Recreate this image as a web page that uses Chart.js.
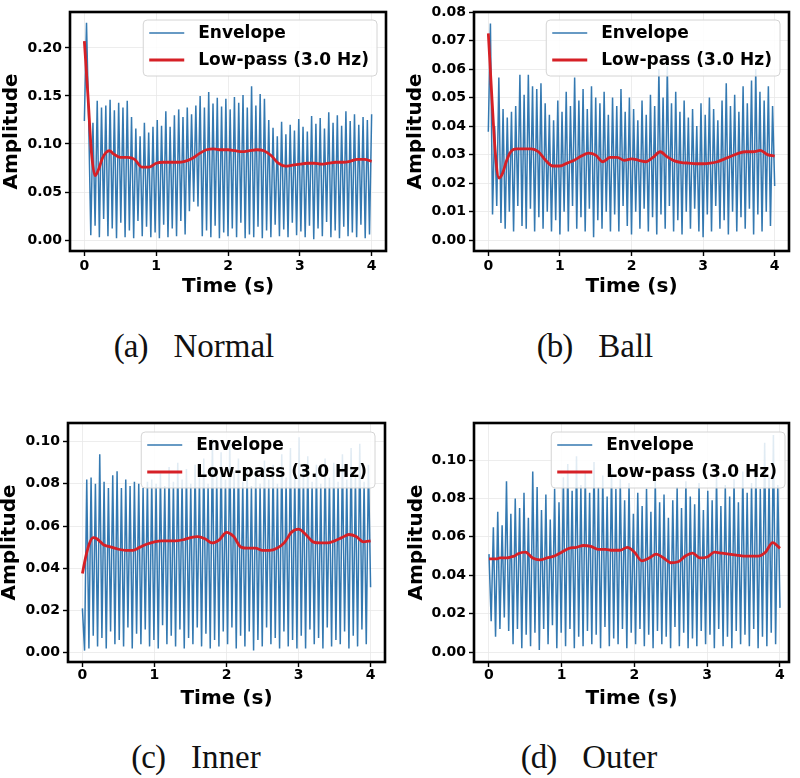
<!DOCTYPE html>
<html>
<head>
<meta charset="utf-8">
<title>Envelope and low-pass amplitude</title>
<script src="https://cdn.jsdelivr.net/npm/chart.js@4.4.1/dist/chart.umd.min.js"></script>
<style>
  html, body { margin: 0; padding: 0; background: #fff; }
  #page { position: relative; width: 800px; height: 778px; overflow: hidden; background: #fff; }
  #page canvas { position: absolute; }
  .cap {
    position: absolute; width: 300px; text-align: center;
    font-family: "Liberation Serif", "Times New Roman", serif;
    font-size: 33px; line-height: 33px; color: #111; white-space: nowrap;
  }
  .cap .tag { letter-spacing: -1px; }
  .cap .gap { display: inline-block; width: 26px; }
</style>
</head>
<body>
<div id="page">
  <canvas id="chartA" width="400" height="300" style="left:0px;top:0px"></canvas>
  <canvas id="chartB" width="400" height="300" style="left:400px;top:0px"></canvas>
  <canvas id="chartC" width="400" height="300" style="left:0px;top:411px"></canvas>
  <canvas id="chartD" width="400" height="300" style="left:400px;top:411px"></canvas>
  <div class="cap" style="left:44px;top:330px"><span class="tag">(a)</span><span class="gap"></span>Normal</div>
  <div class="cap" style="left:445px;top:330px"><span class="tag">(b)</span><span class="gap"></span>Ball</div>
  <div class="cap" style="left:46px;top:741px"><span class="tag">(c)</span><span class="gap"></span>Inner</div>
  <div class="cap" style="left:439px;top:741px"><span class="tag">(d)</span><span class="gap"></span>Outer</div>
</div>

<script>
// ----------------------
// data
// ----------------------
const SERIES_LABELS = ['Envelope', 'Low-pass (3.0 Hz)'];
const ENV_DURATION = 4.0; // seconds, envelope samples are evenly spaced over this
const X_TICKS = [0, 1, 2, 3, 4];
const Y_TICKS_NORMAL = [0, 0.05, 0.10, 0.15, 0.20];
const Y_TICKS_BALL = [0, 0.01, 0.02, 0.03, 0.04, 0.05, 0.06, 0.07, 0.08];
const Y_TICKS_INNER = [0, 0.02, 0.04, 0.06, 0.08, 0.10];
const Y_TICKS_OUTER = [0, 0.02, 0.04, 0.06, 0.08, 0.10];

// times of the low-pass readings (s)
const LP_T = [0, 0.05, 0.1, 0.15, 0.2, 0.25, 0.3, 0.35, 0.4,
  0.5, 0.6, 0.7, 0.8, 0.9, 1.0, 1.1, 1.2, 1.3, 1.4, 1.5, 1.6, 1.7, 1.8, 1.9,
  2.0, 2.1, 2.2, 2.3, 2.4, 2.5, 2.6, 2.7, 2.8, 2.9, 3.0, 3.1, 3.2, 3.3, 3.4,
  3.5, 3.6, 3.7, 3.8, 3.9, 4.0];

// (a) Normal
const ENV_NORMAL = [
  0.124, 0.226, 0.126, 0.005, 0.122, 0.015, 0.145, 0.003, 0.138, 0.022, 0.140, 0.004, 0.146, 0.012, 0.135, 0.002,
  0.143, 0.018, 0.138, 0.003, 0.145, 0.010, 0.128, 0.002, 0.116, 0.020, 0.108, 0.004, 0.122, 0.014, 0.112, 0.003, 0.118,
  0.008, 0.125, 0.002, 0.119, 0.016, 0.134, 0.003, 0.118, 0.012, 0.130, 0.004, 0.136, 0.020, 0.128, 0.006, 0.138,
  0.030, 0.131, 0.040, 0.140, 0.035, 0.150, 0.004, 0.138, 0.010, 0.154, 0.003, 0.142, 0.015, 0.148, 0.002, 0.139, 0.008, 0.147,
  0.004, 0.136, 0.012, 0.149, 0.003, 0.143, 0.018, 0.151, 0.002, 0.138, 0.006, 0.160, 0.003, 0.140, 0.014, 0.152,
  0.002, 0.147, 0.010, 0.125, 0.003, 0.117, 0.016, 0.108, 0.004, 0.123, 0.011, 0.110, 0.003, 0.120, 0.018, 0.114, 0.005, 0.126,
  0.009, 0.118, 0.003, 0.113, 0.015, 0.129, 0.001, 0.121, 0.012, 0.127, 0.004, 0.116, 0.019, 0.133, 0.003, 0.122,
  0.010, 0.130, 0.002, 0.119, 0.014, 0.134, 0.004, 0.124, 0.008, 0.131, 0.003, 0.120, 0.016, 0.128, 0.002, 0.125, 0.006, 0.131
];
const LP_NORMAL = [0.207, 0.150, 0.090, 0.067, 0.074, 0.085, 0.091, 0.093, 0.090,
  0.086, 0.086, 0.084, 0.076, 0.076, 0.080, 0.081, 0.081, 0.081, 0.082, 0.085, 0.090, 0.094, 0.095, 0.094,
  0.094, 0.093, 0.092, 0.093, 0.094, 0.093, 0.088, 0.080, 0.077, 0.078, 0.079, 0.080, 0.080, 0.079, 0.080,
  0.081, 0.081, 0.082, 0.084, 0.084, 0.082];

// (b) Ball
const ENV_BALL = [
  0.038, 0.076, 0.009, 0.040, 0.012, 0.057, 0.006, 0.046, 0.004, 0.043, 0.010, 0.045, 0.003, 0.047, 0.012, 0.058,
  0.005, 0.051, 0.004, 0.058, 0.011, 0.054, 0.003, 0.053, 0.008, 0.055, 0.004, 0.048, 0.010, 0.044, 0.003, 0.042, 0.007, 0.049,
  0.002, 0.045, 0.010, 0.052, 0.003, 0.047, 0.012, 0.057, 0.004, 0.049, 0.008, 0.053, 0.003, 0.046, 0.011, 0.054,
  0.001, 0.050, 0.007, 0.048, 0.004, 0.052, 0.010, 0.044, 0.003, 0.050, 0.009, 0.047, 0.003, 0.053, 0.012, 0.045, 0.005, 0.050,
  0.002, 0.046, 0.010, 0.042, 0.004, 0.049, 0.011, 0.044, 0.003, 0.051, 0.008, 0.047, 0.002, 0.060, 0.009, 0.050,
  0.004, 0.061, 0.012, 0.048, 0.003, 0.052, 0.007, 0.045, 0.002, 0.049, 0.010, 0.043, 0.004, 0.046, 0.011, 0.040, 0.003, 0.048,
  0.001, 0.044, 0.009, 0.050, 0.003, 0.046, 0.012, 0.042, 0.004, 0.049, 0.007, 0.055, 0.002, 0.047, 0.010, 0.051,
  0.003, 0.045, 0.008, 0.054, 0.004, 0.048, 0.011, 0.056, 0.002, 0.060, 0.009, 0.052, 0.003, 0.049, 0.010, 0.054, 0.005, 0.047, 0.019
];
const LP_BALL = [0.0725, 0.050, 0.030, 0.0218, 0.0235, 0.0275, 0.0305, 0.0318, 0.032,
  0.032, 0.032, 0.031, 0.028, 0.026, 0.026, 0.027, 0.028, 0.0295, 0.0305, 0.0298, 0.0275, 0.029, 0.029, 0.028,
  0.0285, 0.028, 0.0275, 0.029, 0.031, 0.0292, 0.0278, 0.0272, 0.027, 0.0268, 0.0268, 0.027, 0.0275, 0.0285, 0.0295,
  0.0305, 0.031, 0.031, 0.0315, 0.030, 0.0295];

// (c) Inner
const ENV_INNER = [
  0.021, 0.001, 0.082, 0.002, 0.083, 0.008, 0.080, 0.003, 0.094, 0.007, 0.081, 0.002, 0.078, 0.010, 0.084, 0.004,
  0.086, 0.006, 0.078, 0.003, 0.082, 0.012, 0.079, 0.002, 0.081, 0.009, 0.080, 0.004, 0.078, 0.011, 0.081, 0.003, 0.082,
  0.006, 0.080, 0.002, 0.085, 0.013, 0.079, 0.004, 0.088, 0.008, 0.081, 0.003, 0.090, 0.011, 0.082, 0.002, 0.087,
  0.007, 0.080, 0.004, 0.089, 0.012, 0.083, 0.003, 0.092, 0.009, 0.080, 0.002, 0.101, 0.006, 0.084, 0.003, 0.095, 0.010, 0.082,
  0.004, 0.100, 0.012, 0.086, 0.002, 0.092, 0.008, 0.081, 0.003, 0.088, 0.010, 0.079, 0.001, 0.086, 0.006, 0.080,
  0.003, 0.091, 0.012, 0.082, 0.004, 0.089, 0.007, 0.080, 0.002, 0.094, 0.010, 0.083, 0.003, 0.097, 0.006, 0.085, 0.002, 0.102,
  0.008, 0.086, 0.002, 0.093, 0.011, 0.081, 0.004, 0.089, 0.007, 0.080, 0.002, 0.092, 0.012, 0.083, 0.003, 0.090,
  0.006, 0.081, 0.004, 0.094, 0.010, 0.082, 0.002, 0.097, 0.008, 0.084, 0.003, 0.099, 0.011, 0.081, 0.004, 0.089, 0.031
];
const LP_INNER = [0.0375, 0.046, 0.052, 0.0545, 0.054, 0.0525, 0.051, 0.0505, 0.050,
  0.049, 0.0485, 0.0485, 0.050, 0.0515, 0.0525, 0.053, 0.053, 0.053, 0.0535, 0.0545, 0.055, 0.054, 0.052, 0.0535,
  0.057, 0.055, 0.050, 0.0495, 0.0495, 0.0485, 0.0485, 0.0495, 0.052, 0.057, 0.0585, 0.056, 0.0525, 0.052, 0.052,
  0.053, 0.0545, 0.056, 0.055, 0.0525, 0.053];

// (d) Outer
const ENV_OUTER = [
  0.051, 0.016, 0.065, 0.008, 0.073, 0.012, 0.066, 0.018, 0.089, 0.011, 0.072, 0.004, 0.080, 0.012, 0.075, 0.002,
  0.083, 0.009, 0.070, 0.003, 0.094, 0.010, 0.086, 0.001, 0.074, 0.012, 0.082, 0.004, 0.069, 0.014, 0.085, 0.002, 0.078,
  0.010, 0.091, 0.003, 0.098, 0.012, 0.084, 0.002, 0.102, 0.008, 0.087, 0.003, 0.094, 0.011, 0.083, 0.004, 0.099,
  0.009, 0.086, 0.002, 0.092, 0.013, 0.081, 0.003, 0.096, 0.007, 0.085, 0.004, 0.090, 0.012, 0.079, 0.002, 0.088, 0.010, 0.072,
  0.004, 0.083, 0.012, 0.076, 0.003, 0.085, 0.009, 0.073, 0.002, 0.090, 0.011, 0.078, 0.004, 0.082, 0.008, 0.070,
  0.002, 0.079, 0.013, 0.086, 0.003, 0.075, 0.010, 0.089, 0.002, 0.081, 0.007, 0.077, 0.003, 0.088, 0.011, 0.074, 0.004, 0.084,
  0.009, 0.079, 0.002, 0.092, 0.012, 0.076, 0.003, 0.087, 0.008, 0.081, 0.002, 0.090, 0.011, 0.078, 0.004, 0.094,
  0.009, 0.083, 0.003, 0.088, 0.012, 0.097, 0.002, 0.085, 0.008, 0.109, 0.003, 0.091, 0.010, 0.113, 0.004, 0.087, 0.023
];
const LP_OUTER = [0.0485, 0.0485, 0.0485, 0.049, 0.049, 0.049, 0.0495, 0.050, 0.0512,
  0.052, 0.049, 0.048, 0.049, 0.050, 0.052, 0.054, 0.0545, 0.0555, 0.055, 0.0535, 0.0535, 0.053, 0.053, 0.0545,
  0.052, 0.0475, 0.049, 0.051, 0.049, 0.0465, 0.047, 0.050, 0.0515, 0.049, 0.0495, 0.052, 0.0515, 0.051, 0.0505,
  0.050, 0.050, 0.050, 0.052, 0.057, 0.054];

document.addEventListener('DOMContentLoaded', () => {
  // ----------------------
  // look
  // ----------------------
  const ENV_COLOR = 'rgba(35,110,170,0.92)';
  const LP_COLOR = '#d62026';
  const FONT = '"DejaVu Sans", sans-serif';
  const GRID = '#e8e8e8';

  // layout of each panel in page pixels (frame = plot box left, top, right, bottom)
  const panels = [
    { id: 'chartA', left: 0,   top: 0,   frame: [70, 12, 386, 251],  xr: [-0.2, 4.2],   yr: [-0.0113, 0.2373],
      yTicks: Y_TICKS_NORMAL, env: ENV_NORMAL, lp: LP_NORMAL, legRight: 9,  legTop: 8, yTitlePad: 2, xTitlePad: 3, xTickPad: 2 },
    { id: 'chartB', left: 400, top: 0,   frame: [474, 12, 789, 251], xr: [-0.2, 4.2],   yr: [-0.0038, 0.0800],
      yTicks: Y_TICKS_BALL, env: ENV_BALL, lp: LP_BALL, legRight: 9, legTop: 8, yTitlePad: 6, xTitlePad: 3, xTickPad: 2 },
    { id: 'chartC', left: 0,   top: 411, frame: [68, 423, 385, 662], xr: [-0.2, 4.2],   yr: [-0.0044, 0.1088],
      yTicks: Y_TICKS_INNER, env: ENV_INNER, lp: LP_INNER, legRight: 10, legTop: 9, yTitlePad: 0, xTitlePad: 2, xTickPad: 0 },
    { id: 'chartD', left: 400, top: 411, frame: [474, 423, 789, 662], xr: [-0.206, 4.124], yr: [-0.0052, 0.1193],
      yTicks: Y_TICKS_OUTER, env: ENV_OUTER, lp: LP_OUTER, legRight: 4, legTop: 9, yTitlePad: 7, xTitlePad: 2, xTickPad: 0 }
  ];

  // ----------------------
  // frame + legend drawn on top
  // ----------------------
  const frameLegend = {
    id: 'frameLegend',
    afterDraw(chart, args, opts) {
      const { ctx, chartArea: a } = chart;
      ctx.save();
      ctx.strokeStyle = '#000';
      ctx.lineWidth = 2.6;
      ctx.strokeRect(a.left, a.top, a.right - a.left, a.bottom - a.top);

      ctx.font = 'bold 17px ' + FONT;
      const sets = chart.data.datasets;
      const textW = Math.max(...sets.map(d => ctx.measureText(d.label).width));
      const w = 6 + 35 + 14 + textW + 8, h = 56;
      const x = a.right - opts.right - w, y = a.top + opts.top;
      ctx.beginPath();
      ctx.roundRect(x, y, w, h, 4);
      ctx.fillStyle = 'rgba(255,255,255,0.85)';
      ctx.fill();
      ctx.lineWidth = 1;
      ctx.strokeStyle = '#d4d4d4';
      ctx.stroke();

      sets.forEach((d, i) => {
        const ly = y + 13 + i * 27;
        ctx.beginPath();
        ctx.moveTo(x + 6, ly);
        ctx.lineTo(x + 41, ly);
        ctx.strokeStyle = d.borderColor;
        ctx.lineWidth = d.borderWidth;
        ctx.stroke();
        ctx.fillStyle = '#000';
        ctx.textBaseline = 'middle';
        ctx.fillText(d.label, x + 55, ly + 1);
      });
      ctx.restore();
    }
  };

  // ----------------------
  // one panel
  // ----------------------
  function createChart(p) {
    const [L, T, R, B] = p.frame;
    const n = p.env.length;
    const envPts = p.env.map((v, i) => ({ x: i * ENV_DURATION / (n - 1), y: v }));
    const lpPts = LP_T.map((t, i) => ({ x: t, y: p.lp[i] }));
    const tickFont = { family: FONT, size: 14, weight: 'bold', lineHeight: 1.2 };
    const titleFont = { family: FONT, size: 20, weight: 'bold', lineHeight: 1 };

    return new Chart(document.getElementById(p.id).getContext('2d'), {
      type: 'line',
      data: {
        datasets: [
          { label: SERIES_LABELS[0], data: envPts, borderColor: ENV_COLOR, borderWidth: 1.5,
            pointRadius: 0, tension: 0, order: 2 },
          { label: SERIES_LABELS[1], data: lpPts, borderColor: LP_COLOR, borderWidth: 2.8,
            pointRadius: 0, cubicInterpolationMode: 'monotone', order: 1 }
        ]
      },
      options: {
        responsive: false,
        animation: false,
        devicePixelRatio: 1,
        events: [],
        layout: { padding: { left: 0, top: T - p.top, right: p.left + 400 - R, bottom: 0 } },
        plugins: {
          legend: { display: false },
          tooltip: { enabled: false },
          frameLegend: { right: p.legRight, top: p.legTop }
        },
        scales: {
          x: {
            type: 'linear', min: p.xr[0], max: p.xr[1], bounds: 'data',
            afterBuildTicks: s => { s.ticks = X_TICKS.map(v => ({ value: v })); },
            ticks: { font: tickFont, color: '#000', padding: p.xTickPad, maxRotation: 0,
                     callback: v => String(v) },
            grid: { color: GRID, lineWidth: 0.8, tickColor: '#000', tickLength: 5, tickWidth: 1.4 },
            border: { display: false },
            title: { display: true, text: 'Time (s)', font: titleFont, color: '#000',
                     padding: { top: 0, bottom: p.xTitlePad } },
            afterFit: s => { s.height = p.top + 300 - B; }
          },
          y: {
            type: 'linear', min: p.yr[0], max: p.yr[1], bounds: 'data',
            afterBuildTicks: s => { s.ticks = p.yTicks.map(v => ({ value: v })); },
            ticks: { font: tickFont, color: '#000', padding: 3,
                     callback: v => v.toFixed(2) },
            grid: { color: GRID, lineWidth: 0.8, tickColor: '#000', tickLength: 5, tickWidth: 1.4 },
            border: { display: false },
            title: { display: true, text: 'Amplitude', font: titleFont, color: '#000',
                     padding: { top: p.yTitlePad, bottom: 0 } },
            afterFit: s => { s.width = L - p.left; }
          }
        }
      },
      plugins: [frameLegend]
    });
  }

  panels.forEach(createChart);
});
</script>
</body>
</html>
